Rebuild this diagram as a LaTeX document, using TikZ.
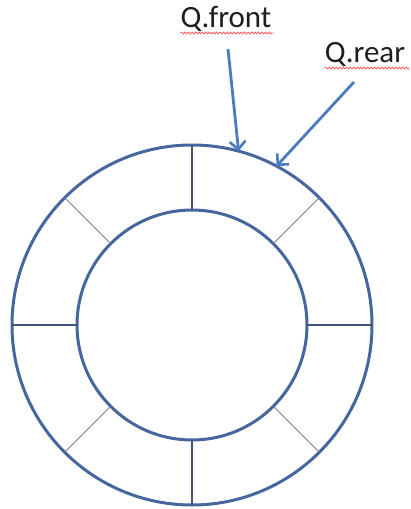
\documentclass[tikz,border=0pt]{standalone}
\usepackage{fontspec}
\setmainfont{Carlito}
\usetikzlibrary{arrows.meta,decorations.pathmorphing}
\definecolor{ringblue}{RGB}{70,102,158}
\definecolor{spokeblue}{RGB}{65,85,125}
\definecolor{arrowblue}{RGB}{74,124,190}
\definecolor{txtgray}{RGB}{30,30,30}
\tikzset{
  ring/.style={circle, draw=ringblue, line width=3pt, outer sep=0pt, inner sep=0pt},
  spoke/.style={draw=spokeblue, line width=1.4pt},
  dspoke/.style={draw=spokeblue!75, line width=0.9pt},
  pointer/.style={draw=arrowblue, line width=2.8pt, -{Straight Barb[length=8pt,width=16pt,line width=2.6pt]}},
  lbl/.style={font=\fontsize{31}{36}\selectfont, text=txtgray, inner sep=0pt, anchor=base},
  squiggle/.style={draw=red!70, line width=0.7pt, decorate, decoration={snake, amplitude=1pt, segment length=3.5pt}}
}
\begin{document}
\begin{tikzpicture}[x=1pt,y=-1pt]
\useasboundingbox (0,0) rectangle (411,509);
\node[ring, minimum size=360pt] (outer) at (192,325) {};
\node[ring, minimum size=230pt] (inner) at (192,325) {};
\foreach \a in {0,90,180,270} {
  \draw[spoke] (inner.\a) -- (outer.\a);
}
\foreach \a in {45,135,225,315} {
  \draw[dspoke] (inner.\a) -- (outer.\a);
}
\node[lbl] (front) at (226,27) {Q.front};
\node[lbl] (rear) at (365,62) {Q.rear};
\draw[squiggle] (front.base west) ++(0,6) -- ++(93,0);
\draw[squiggle] (rear.base west) ++(0,6) -- ++(85,0);
\coordinate (fstart) at (228,49);
\coordinate (rstart) at (354,82);
\draw[pointer] (fstart) -- (outer.75.5);
\draw[pointer] (rstart) -- (outer.62);
\end{tikzpicture}
\end{document}
